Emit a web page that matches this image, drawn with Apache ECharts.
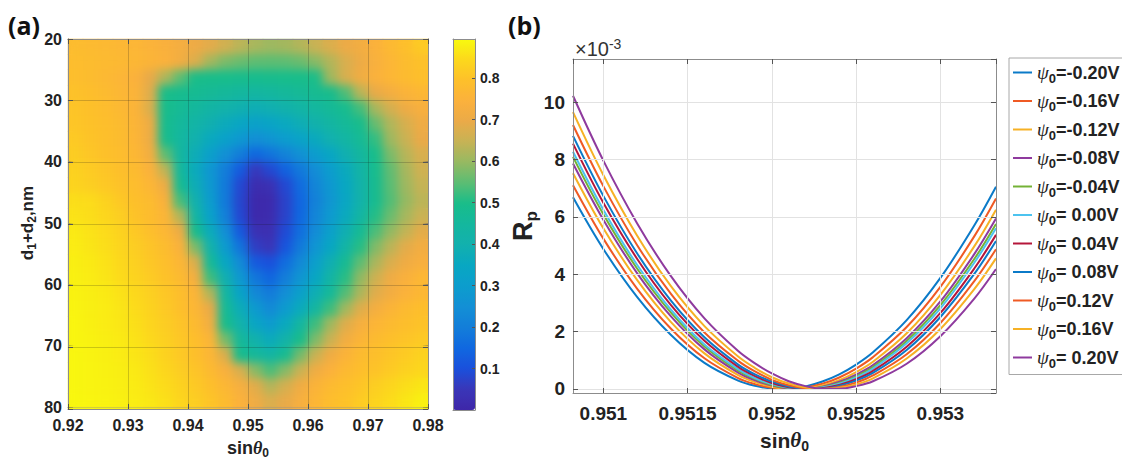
<!DOCTYPE html>
<html><head><meta charset="utf-8">
<script src="https://cdn.jsdelivr.net/npm/echarts@6/dist/echarts.min.js"></script>
<style>
html,body{margin:0;padding:0;background:#fff}
#wrap{position:relative;width:1122px;height:464px}
.layer{position:absolute;left:0;top:0;width:1122px;height:464px}
#soft{filter:blur(5px);clip-path:inset(39px 694px 55px 68px)}
#frameA{pointer-events:none}
</style>
</head><body>
<div id="wrap">
  <div id="c" class="layer"></div>
  <div id="soft" class="layer"></div>
  <div id="frameA" class="layer"></div>
</div>
<script>
// ---------- panel (a): heat map cells (cell centres) ----------
const xCenters = [0.92125,0.92375,0.92625,0.92875,0.93125,0.93375,0.93625,0.93875,0.94125,0.94375,0.94625,0.94875,0.95125,0.95375,0.95625,0.95875,0.96125,0.96375,0.96625,0.96875,0.97125,0.97375,0.97625,0.97875];
const yCenters = [21.25,23.75,26.25,28.75,31.25,33.75,36.25,38.75,41.25,43.75,46.25,48.75,51.25,53.75,56.25,58.75,61.25,63.75,66.25,68.75,71.25,73.75,76.25,78.75];
// Rp values, one row per yCenter (top to bottom), one column per xCenter
const rpGrid = [
[.78,.775,.77,.765,.76,.75,.74,.725,.705,.685,.66,.635,.615,.605,.61,.625,.65,.675,.70,.72,.745,.77,.79,.815],
[.785,.78,.775,.77,.765,.755,.745,.72,.675,.61,.575,.56,.55,.548,.55,.56,.585,.625,.67,.705,.735,.76,.78,.795],
[.787,.78,.77,.76,.745,.693,.621,.55,.498,.497,.494,.491,.49,.491,.494,.497,.5,.606,.669,.714,.742,.762,.778,.79],
[.796,.788,.779,.765,.751,.681,.498,.487,.476,.466,.456,.447,.44,.447,.456,.467,.479,.491,.538,.631,.694,.725,.751,.764],
[.802,.794,.785,.771,.752,.675,.491,.469,.449,.429,.411,.394,.38,.391,.407,.425,.444,.464,.485,.53,.615,.665,.708,.733],
[.806,.797,.788,.778,.756,.706,.486,.454,.423,.394,.366,.341,.32,.335,.356,.38,.406,.434,.462,.491,.558,.623,.668,.708],
[.814,.801,.791,.781,.758,.706,.491,.445,.40,.357,.317,.281,.25,.269,.297,.327,.36,.395,.431,.469,.517,.605,.65,.695],
[.82,.807,.795,.785,.765,.723,.55,.443,.375,.311,.251,.197,.15,.176,.212,.254,.298,.344,.393,.443,.495,.575,.629,.67],
[.83,.818,.804,.791,.777,.744,.638,.453,.363,.276,.196,.122,.055,.085,.137,.188,.242,.30,.36,.422,.486,.553,.613,.658],
[.835,.824,.811,.799,.784,.761,.707,.477,.378,.284,.19,.085,.022,.035,.085,.159,.218,.281,.347,.414,.484,.546,.604,.645],
[.851,.848,.832,.811,.793,.777,.74,.531,.40,.295,.19,.08,.01,.015,.075,.146,.208,.273,.341,.411,.484,.541,.595,.635],
[.859,.852,.84,.823,.798,.783,.757,.625,.432,.318,.205,.085,.01,.018,.075,.15,.22,.287,.358,.432,.506,.561,.612,.651],
[.869,.859,.848,.832,.811,.79,.765,.708,.488,.368,.25,.12,.035,.03,.09,.165,.239,.312,.389,.469,.536,.594,.641,.686],
[.873,.863,.853,.838,.821,.802,.78,.742,.575,.411,.291,.175,.065,.05,.11,.19,.268,.345,.425,.507,.579,.635,.685,.72],
[.877,.871,.859,.845,.828,.809,.79,.761,.675,.463,.346,.237,.12,.10,.161,.231,.307,.388,.474,.55,.617,.672,.711,.734],
[.88,.873,.863,.849,.834,.817,.798,.776,.725,.525,.392,.28,.182,.142,.20,.269,.345,.425,.508,.592,.656,.709,.739,.764],
[.882,.876,.871,.859,.845,.828,.809,.788,.754,.625,.441,.33,.232,.192,.247,.312,.384,.46,.542,.619,.681,.719,.747,.766],
[.884,.878,.873,.863,.848,.832,.813,.793,.761,.695,.47,.374,.289,.233,.291,.363,.441,.525,.607,.679,.725,.756,.774,.789],
[.886,.88,.874,.866,.854,.838,.821,.802,.776,.721,.492,.411,.34,.29,.358,.439,.525,.607,.679,.729,.758,.775,.788,.799],
[.887,.882,.877,.871,.859,.845,.828,.809,.788,.754,.569,.456,.404,.362,.414,.492,.575,.65,.715,.756,.778,.791,.803,.814],
[.888,.884,.879,.873,.864,.851,.832,.813,.793,.761,.675,.49,.457,.43,.48,.57,.65,.713,.753,.778,.791,.804,.818,.831],
[.888,.885,.881,.876,.869,.856,.84,.821,.802,.776,.735,.67,.585,.535,.583,.65,.711,.746,.773,.789,.801,.815,.829,.84],
[.888,.885,.882,.878,.872,.861,.848,.832,.813,.793,.765,.729,.683,.626,.665,.713,.752,.774,.79,.806,.824,.839,.851,.864],
[.89,.887,.884,.88,.874,.866,.854,.838,.821,.802,.777,.746,.707,.673,.693,.729,.763,.784,.799,.817,.834,.849,.864,.879]
];
const parulaColors = ['#3e26a8','#3a36b8','#1a50dc','#1068e0','#137ed9','#138fd5','#0c9dcd','#08a7c2','#12b0ae','#14b79e','#18bd8a','#5abd74','#95b962','#c6b355','#eaaa48','#fbb13c','#fdc02a','#fcd81c','#f8fa0e'];

// ---------- panel (b): Rp (x1e-3) vs sin(theta0) ----------
const sinX = [0.95082,0.9510,0.9512,0.9514,0.9516,0.9518,0.9519,0.9520,0.9521,0.9522,0.9523,0.9524,0.9525,0.9526,0.9528,0.9530,0.9532,0.95333];
const psiLabels = ['=-0.20V','=-0.16V','=-0.12V','=-0.08V','=-0.04V','= 0.00V','= 0.04V','= 0.08V','=0.12V','=0.16V','= 0.20V'];
const rpM20 = [6.68,4.88,3.21,1.89,0.91,0.29,0.11,0.015,0.008,0.09,0.26,0.51,0.85,1.28,2.40,3.87,5.69,7.05];
const rpM16 = [7.10,5.24,3.50,2.11,1.07,0.38,0.17,0.04,0.00,0.05,0.18,0.40,0.71,1.11,2.16,3.56,5.31,6.64];
const rpM12 = [7.52,5.60,3.80,2.34,1.24,0.48,0.24,0.08,0.005,0.02,0.12,0.31,0.59,0.95,1.94,3.28,4.96,6.25];
const rpM08 = [7.86,5.90,4.04,2.54,1.38,0.57,0.30,0.12,0.02,0.006,0.08,0.25,0.50,0.83,1.77,3.05,4.69,5.94];
const rpM04 = [8.09,6.09,4.20,2.67,1.48,0.64,0.35,0.14,0.03,0.00,0.06,0.21,0.44,0.76,1.67,2.92,4.52,5.75];
const rpP00 = [8.27,6.25,4.33,2.77,1.55,0.69,0.38,0.17,0.04,0.00,0.05,0.18,0.40,0.71,1.59,2.81,4.39,5.60];
const rpP04 = [8.55,6.49,4.54,2.93,1.68,0.77,0.45,0.21,0.06,0.00,0.03,0.14,0.34,0.63,1.47,2.65,4.19,5.37];
const rpP08 = [8.82,6.73,4.73,3.09,1.80,0.85,0.51,0.26,0.09,0.01,0.01,0.11,0.29,0.56,1.36,2.51,4.00,5.16];
const rpP12 = [9.20,7.07,5.02,3.32,1.97,0.98,0.61,0.32,0.13,0.02,0.00,0.07,0.22,0.47,1.21,2.30,3.75,4.87];
const rpP16 = [9.65,7.46,5.35,3.59,2.19,1.13,0.73,0.41,0.19,0.05,0.00,0.04,0.16,0.37,1.06,2.09,3.47,4.55];
const rpP20 = [10.22,7.96,5.78,3.94,2.46,1.32,0.89,0.54,0.27,0.10,0.01,0.01,0.10,0.27,0.88,1.84,3.14,4.18];
const rpSeries = [rpM20,rpM16,rpM12,rpM08,rpM04,rpP00,rpP04,rpP08,rpP12,rpP16,rpP20];
const lineColors = ['#0b7ac8','#ef5a24','#f6b125','#8f3a9e','#74b236','#4cc3ef','#b5163a','#0b7ac8','#ef5a24','#f6b125','#8f3a9e'];

// ---------- build ----------
const FONT = '"Liberation Sans", Arial, sans-serif';
const SERIF = '"Liberation Serif", "DejaVu Serif", serif';
const AX = '#8c8c8c';
const TXT = '#222';
const PLOT_A = {left: 68, top: 39, width: 360, height: 370};

const heatData = [];
rpGrid.forEach((row, j) => row.forEach((v, i) => heatData.push([i, j, v])));

function frameAxis(gridIndex, pos, extra) {
  return Object.assign({
    gridIndex, type: 'value', position: pos, z: 10,
    axisLine: {show: true, onZero: false, lineStyle: {color: AX, width: 1}},
    axisTick: {show: true, inside: true, length: 5, lineStyle: {color: '#555'}},
    axisLabel: {show: false}, splitLine: {show: false}
  }, extra || {});
}
function subRich(mainSize, subSize, lh, bold) {
  return {
    m: {fontSize: mainSize, fontWeight: bold ? 'bold' : 'normal', fontFamily: FONT, color: TXT, lineHeight: lh},
    t: {fontSize: mainSize, fontWeight: 'bold', fontStyle: 'italic', fontFamily: SERIF, color: TXT, lineHeight: lh},
    s: {fontSize: subSize, fontWeight: bold ? 'bold' : 'normal', fontFamily: FONT, color: TXT, lineHeight: 6, verticalAlign: 'bottom'}
  };
}
function heatSeries() {
  return {type: 'heatmap', xAxisIndex: 0, yAxisIndex: 0, data: heatData,
    progressive: 0, itemStyle: {borderWidth: 0}, emphasis: {disabled: true}};
}
const catAxesX = {gridIndex: 0, type: 'category', data: xCenters.map(String), show: false};
const catAxesY = {gridIndex: 0, type: 'category', data: yCenters.map(String), inverse: true, show: false};
const gridLineA = {show: true, lineStyle: {color: 'rgba(20,20,20,0.2)', width: 1}};

// main chart
const series = [heatSeries()];
psiLabels.forEach((name, k) => {
  series.push({
    type: 'line', name, xAxisIndex: 5, yAxisIndex: 5,
    data: sinX.map((x, i) => [x, rpSeries[k][i]]),
    symbol: 'none', showSymbol: false, smooth: 0.35, z: 3,
    lineStyle: {width: 2, color: lineColors[k]}, itemStyle: {color: lineColors[k]},
    emphasis: {disabled: true}
  });
});

const option = {
  animation: false,
  backgroundColor: '#ffffff',
  textStyle: {fontFamily: FONT},
  grid: [
    Object.assign({}, PLOT_A),
    Object.assign({}, PLOT_A),
    {left: 453, top: 39, width: 22, height: 371},
    {left: 573, top: 59, width: 423, height: 334}
  ],
  xAxis: [
    catAxesX,
    frameAxis(1, 'bottom', {
      min: 0.92, max: 0.98, interval: 0.01,
      axisLabel: {show: true, margin: 10, fontSize: 16, fontWeight: 'bold', color: TXT, fontFamily: FONT, formatter: v => v.toFixed(2)},
      splitLine: gridLineA,
      name: '{m|sin}{t|θ}{s|0}', nameLocation: 'middle', nameGap: 30,
      nameTextStyle: {rich: subRich(18, 12, 22, true)}
    }),
    frameAxis(1, 'top', {min: 0.92, max: 0.98, interval: 0.01}),
    frameAxis(2, 'bottom', {min: 0, max: 1, axisTick: {show: false}}),
    frameAxis(2, 'top', {min: 0, max: 1, axisTick: {show: false}}),
    frameAxis(3, 'bottom', {
      min: 0.95082, max: 0.95333, splitNumber: 5,
      axisLabel: {show: true, margin: 11, fontSize: 19, fontWeight: 'bold', color: TXT, fontFamily: FONT,
        showMinLabel: false, showMaxLabel: false, formatter: v => String(+v.toFixed(4))},
      splitLine: {show: true, lineStyle: {color: '#e2e2e2', width: 1}},
      name: '{m|sin}{t|θ}{s|0}', nameLocation: 'middle', nameGap: 34,
      nameTextStyle: {rich: subRich(21, 14, 26, true)}
    }),
    frameAxis(3, 'top', {min: 0.95082, max: 0.95333, splitNumber: 5})
  ],
  yAxis: [
    catAxesY,
    frameAxis(1, 'left', {
      min: 20, max: 80, interval: 10, inverse: true,
      axisLabel: {show: true, margin: 6, fontSize: 16, fontWeight: 'bold', color: TXT, fontFamily: FONT},
      splitLine: gridLineA,
      name: '{m|d}{s|1}{m|+d}{s|2}{m|,nm}', nameLocation: 'middle', nameGap: 30, nameRotate: 90,
      nameTextStyle: {rich: subRich(17, 12, 22, true)}
    }),
    frameAxis(1, 'right', {min: 20, max: 80, interval: 10, inverse: true}),
    frameAxis(2, 'left', {min: 0, max: 0.894, interval: 0.1, axisTick: {show: false}}),
    frameAxis(2, 'right', {
      min: 0, max: 0.894, interval: 0.1,
      axisTick: {show: true, inside: true, length: 3, lineStyle: {color: '#555'}},
      axisLabel: {show: true, margin: 5, fontSize: 14, fontWeight: 'bold', color: TXT, fontFamily: FONT,
        showMinLabel: false, showMaxLabel: false, formatter: v => v.toFixed(1)}
    }),
    frameAxis(3, 'left', {
      min: -0.14, max: 11.5, splitNumber: 6,
      axisLabel: {show: true, margin: 8, fontSize: 19, fontWeight: 'bold', color: TXT, fontFamily: FONT,
        showMinLabel: false, showMaxLabel: false, formatter: v => String(Math.round(v))},
      splitLine: {show: true, lineStyle: {color: '#e2e2e2', width: 1}},
      name: '{m|R}{p|p}', nameLocation: 'middle', nameGap: 33, nameRotate: 90,
      nameTextStyle: {rich: {
        m: {fontSize: 27, fontWeight: 'bold', fontFamily: FONT, color: TXT, lineHeight: 34},
        p: {fontSize: 17, fontWeight: 'bold', fontFamily: FONT, color: TXT, lineHeight: 8, verticalAlign: 'bottom'}
      }}
    }),
    frameAxis(3, 'right', {min: -0.14, max: 11.5, splitNumber: 6})
  ],
  visualMap: {
    type: 'continuous', seriesIndex: 0, min: 0, max: 0.894, calculable: false, hoverLink: false,
    orient: 'vertical', left: 448, top: 34, itemWidth: 22, itemHeight: 371, padding: 5,
    inRange: {color: parulaColors}
  },
  legend: {
    orient: 'vertical', left: 1009, top: 58, padding: [5, 4, 5, 4], itemGap: 7,
    icon: 'rect', itemWidth: 19, itemHeight: 2, borderColor: '#a8a8a8', borderWidth: 1, backgroundColor: '#fff',
    selectedMode: false, data: psiLabels,
    formatter: n => '{p|ψ}{s|0}{v|' + n + '}',
    textStyle: {rich: {
      p: {fontSize: 19, fontStyle: 'italic', fontFamily: SERIF, color: TXT, lineHeight: 24},
      s: {fontSize: 13, fontWeight: 'bold', fontFamily: FONT, color: TXT, lineHeight: 8, verticalAlign: 'bottom'},
      v: {fontSize: 18, fontWeight: 'bold', fontFamily: FONT, color: TXT, lineHeight: 24}
    }}
  },
  graphic: [
    {type: 'text', left: 8, top: 12, style: {text: '(a)', fontSize: 25, fontWeight: 'bold', fontFamily: '"Open Sans", sans-serif', fill: '#111'}},
    {type: 'text', left: 508, top: 12, style: {text: '(b)', fontSize: 25, fontWeight: 'bold', fontFamily: '"Open Sans", sans-serif', fill: '#111'}},
    {type: 'text', left: 575, top: 37, style: {
      text: '×10{s|-3}', fontSize: 20, fontFamily: FONT, fill: '#333', lineHeight: 24,
      rich: {s: {fontSize: 14, fontFamily: FONT, fill: '#333', lineHeight: 6, verticalAlign: 'top'}}
    }}
  ],
  series
};
echarts.init(document.getElementById('c'), null, {renderer: 'svg'}).setOption(option);

// soft layer: the same heat map drawn by ECharts, shown with smooth shading like MATLAB "shading interp"
echarts.init(document.getElementById('soft'), null, {renderer: 'canvas'}).setOption({
  animation: false,
  grid: [Object.assign({}, PLOT_A)],
  xAxis: [catAxesX], yAxis: [catAxesY],
  visualMap: {show: false, type: 'continuous', seriesIndex: 0, min: 0, max: 0.894, inRange: {color: parulaColors}},
  series: [heatSeries()]
});

// frame layer for panel (a): grid lines and ticks on top of the shading
echarts.init(document.getElementById('frameA'), null, {renderer: 'svg'}).setOption({
  animation: false,
  grid: [Object.assign({}, PLOT_A)],
  xAxis: [
    frameAxis(0, 'bottom', {min: 0.92, max: 0.98, interval: 0.01, splitLine: gridLineA}),
    frameAxis(0, 'top', {min: 0.92, max: 0.98, interval: 0.01})
  ],
  yAxis: [
    frameAxis(0, 'left', {min: 20, max: 80, interval: 10, inverse: true, splitLine: gridLineA}),
    frameAxis(0, 'right', {min: 20, max: 80, interval: 10, inverse: true})
  ],
  series: []
});
</script></body></html>
